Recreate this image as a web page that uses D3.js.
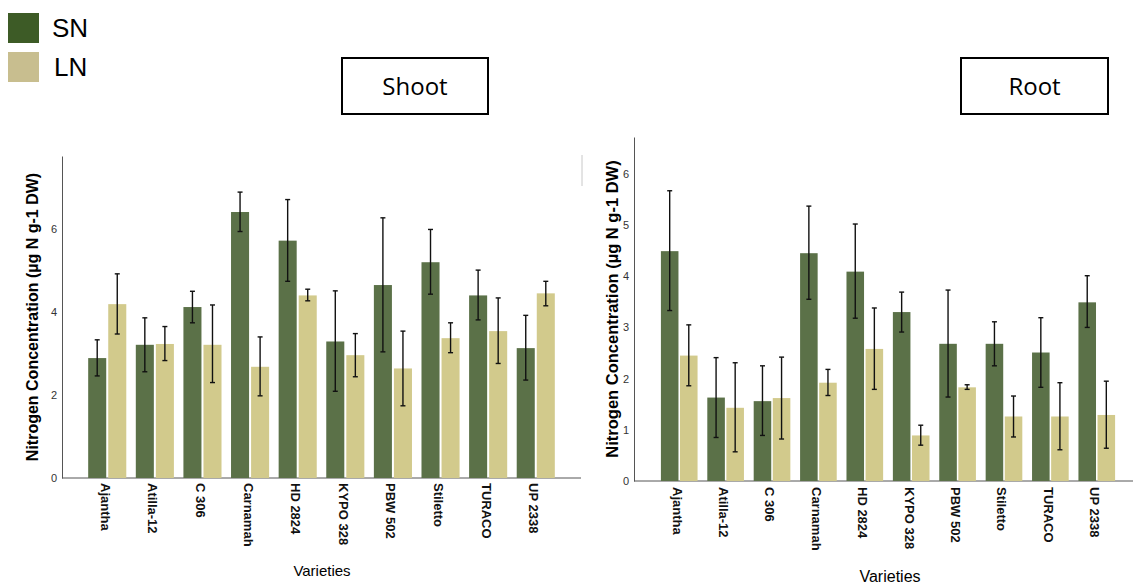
<!DOCTYPE html>
<html lang="en">
<head>
    <meta charset="UTF-8">
    <script src="https://d3js.org/d3.v7.min.js"></script>
    <title>Nitrogen Concentration - Shoot and Root</title>
    <style>
        body{ margin:0; background:#fff; }
        svg text{ font-family: "Liberation Sans", Arial, sans-serif; }
        .tick text{ fill:#333; font-size:11px; }
        .xlab text{ font-weight:bold; font-size:13px; fill:#111; }
    </style>
</head>
<body>
    <script>
        // data
        var varieties = ["Ajantha","Atilla-12","C 306","Carnamah","HD 2824","KYPO 328","PBW 502","Stiletto","TURACO","UP 2338"];
        var groups = ["SN","LN"];

        // shoot : mean, low, high of error bar
        var shootSN    = [2.89, 3.21, 4.12, 6.41, 5.72, 3.29, 4.65, 5.20, 4.40, 3.13];
        var shootSNlo  = [2.46, 2.56, 3.74, 5.94, 4.74, 2.09, 3.04, 4.43, 3.81, 2.36];
        var shootSNhi  = [3.33, 3.86, 4.50, 6.89, 6.71, 4.51, 6.27, 5.99, 5.01, 3.92];
        var shootLN    = [4.19, 3.23, 3.21, 2.68, 4.40, 2.96, 2.64, 3.37, 3.54, 4.45];
        var shootLNlo  = [3.47, 2.83, 2.30, 1.98, 4.27, 2.44, 1.74, 3.02, 2.76, 4.15];
        var shootLNhi  = [4.92, 3.65, 4.17, 3.40, 4.55, 3.48, 3.54, 3.74, 4.34, 4.74];

        // root
        var rootSN     = [4.49, 1.63, 1.56, 4.45, 4.09, 3.30, 2.68, 2.68, 2.51, 3.49];
        var rootSNlo   = [3.33, 0.85, 0.89, 3.55, 3.18, 2.91, 1.64, 2.25, 1.83, 3.00];
        var rootSNhi   = [5.67, 2.41, 2.25, 5.37, 5.02, 3.69, 3.73, 3.11, 3.19, 4.01];
        var rootLN     = [2.45, 1.43, 1.62, 1.92, 2.58, 0.89, 1.83, 1.26, 1.26, 1.29];
        var rootLNlo   = [1.86, 0.57, 0.82, 1.67, 1.79, 0.70, 1.79, 0.86, 0.61, 0.64];
        var rootLNhi   = [3.05, 2.31, 2.42, 2.18, 3.38, 1.09, 1.88, 1.66, 1.92, 1.95];

        var shootTicks = [0,2,4,6];
        var rootTicks = [0,1,2,3,4,5,6];

        var colors = {SN:"#5b7148", LN:"#d2ca8c"};
        var legendColors = {SN:"#3d5b26", LN:"#c8be8f"};

        var width=1133, height=586;

        var svg = d3.select("body").append("svg").attr("width",width).attr("height",height);

        function rows(sn,snlo,snhi,ln,lnlo,lnhi){
            return varieties.map(function(v,i){
                return {name:v, vals:[
                    {g:"SN", v:sn[i], lo:snlo[i], hi:snhi[i]},
                    {g:"LN", v:ln[i], lo:lnlo[i], hi:lnhi[i]}
                ]};
            });
        }

        function drawChart(o){
            var x0 = d3.scaleBand().domain(varieties).range(o.xr).paddingInner(o.pin).paddingOuter(o.pout);
            var x1 = d3.scaleBand().domain(groups).range([0,x0.bandwidth()]).paddingInner(o.gap);
            var y = d3.scaleLinear().domain([0,o.ymax]).range([o.y0,o.ytop]);

            var g = svg.append("g");

            // y axis
            var yAxis = d3.axisLeft(y).tickValues(o.ticks).tickFormat(d3.format("d"))
                .tickSize(0).tickPadding(5).tickSizeOuter(0);
            var ya = g.append("g").attr("transform","translate("+o.xr[0]+",0)").call(yAxis);
            ya.select(".domain").attr("stroke","#555");
            ya.selectAll(".tick line").remove();

            // x axis line
            g.append("line").attr("x1",o.xr[0]).attr("x2",o.xend).attr("y1",y(0)).attr("y2",y(0))
                .attr("stroke","#555");

            var grp = g.selectAll(".grp").data(o.data).enter().append("g")
                .attr("transform",function(d){return "translate("+x0(d.name)+",0)";});

            grp.selectAll("rect").data(function(d){return d.vals;}).enter().append("rect")
                .attr("x",function(d){return x1(d.g);})
                .attr("width",x1.bandwidth())
                .attr("y",function(d){return y(d.v);})
                .attr("height",function(d){return y(0)-y(d.v);})
                .attr("fill",function(d){return colors[d.g];});

            // error bars
            var eb = grp.selectAll(".eb").data(function(d){return d.vals;}).enter().append("g")
                .attr("transform",function(d){return "translate("+(x1(d.g)+x1.bandwidth()/2)+",0)";})
                .attr("stroke","#111").attr("stroke-width",1.4);
            eb.append("line").attr("y1",function(d){return y(d.lo);}).attr("y2",function(d){return y(d.hi);});
            eb.append("line").attr("x1",-2.5).attr("x2",2.5).attr("y1",function(d){return y(d.hi);}).attr("y2",function(d){return y(d.hi);});
            eb.append("line").attr("x1",-2.5).attr("x2",2.5).attr("y1",function(d){return y(d.lo);}).attr("y2",function(d){return y(d.lo);});

            // x labels, rotated
            g.append("g").attr("class","xlab").selectAll("text").data(varieties).enter().append("text")
                .attr("transform",function(d){return "translate("+(x0(d)+x0.bandwidth()/2+o.lx)+","+o.ly+") rotate(90)";})
                .attr("dy","0.35em")
                .attr("text-anchor","start")
                .text(function(d){return d;});

            // axis titles
            g.append("text").attr("transform","translate("+o.ytx+","+o.yty+") rotate(-90)")
                .attr("text-anchor","middle").style("font-weight","bold").style("font-size",o.yfs)
                .text("Nitrogen Concentration (µg N g-1 DW)");
            g.append("text").attr("x",o.vx).attr("y",o.vy).attr("text-anchor","middle")
                .style("font-size",o.vfs).text("Varieties");

            // title box
            g.append("rect").attr("x",o.box[0]).attr("y",58).attr("width",o.box[1]).attr("height",56)
                .attr("fill","none").attr("stroke","#000").attr("stroke-width",2);
            g.append("text").attr("x",o.box[0]+o.box[1]/2).attr("y",95).attr("text-anchor","middle")
                .style("font-family","'Open Sans', sans-serif").style("font-size","24px").text(o.title);
        }

        drawChart({
            data: rows(shootSN,shootSNlo,shootSNhi,shootLN,shootLNlo,shootLNhi),
            xr:[62,581], xend:581, pin:0.2, pout:0.55, gap:0.1,
            ymax:7.76, y0:478, ytop:156, ticks:shootTicks,
            lx:-2, ly:483, ytx:38, yty:317, yfs:"16px", vx:322, vy:576, vfs:"15px",
            box:[342,146], title:"Shoot"
        });

        drawChart({
            data: rows(rootSN,rootSNlo,rootSNhi,rootLN,rootLNlo,rootLNhi),
            xr:[634,1142], xend:1133, pin:0.21, pout:0.58, gap:0.08,
            ymax:6.72, y0:481, ytop:137, ticks:rootTicks,
            lx:-2, ly:487, ytx:618, yty:309, yfs:"16.5px", vx:890, vy:582, vfs:"16px",
            box:[961,147], title:"Root"
        });

        // faint stray mark between panels
        svg.append("line").attr("x1",582).attr("x2",582).attr("y1",155).attr("y2",186).attr("stroke","#c8c8c8");

        // legend
        var leg = svg.append("g").selectAll("g").data(groups).enter().append("g")
            .attr("transform",function(d,i){return "translate(8,"+(13+i*39)+")";});
        leg.append("rect").attr("width",31).attr("height",30).attr("fill",function(d){return legendColors[d];});
        leg.append("text").attr("x",function(d,i){return i==0?44:46;}).attr("y",24)
            .style("font-size","26px").text(function(d){return d;});
    </script>
</body>
</html>
